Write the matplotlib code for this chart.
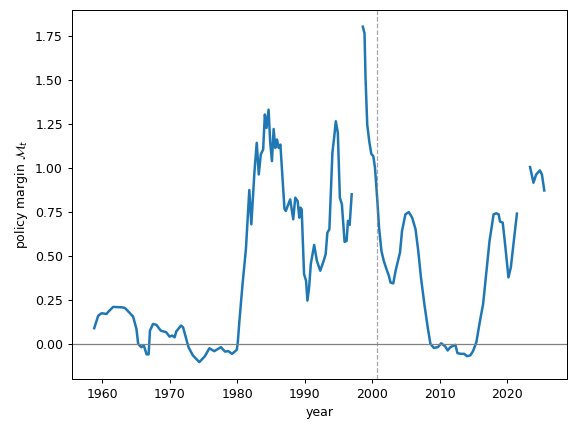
import numpy as np
import matplotlib
matplotlib.use("Agg")
import matplotlib.pyplot as plt

nan = np.nan

years = [
    1958.85, 1959.44, 1959.93, 1960.66, 1961.0, 1961.65, 1962.9, 1963.4, 1964.1, 1964.6,
    1965.1, 1965.35, 1965.8, 1966.2, 1966.6, 1966.9, 1967.1, 1967.55, 1968.05, 1968.7,
    1969.5, 1970.0, 1970.4, 1970.75, 1971.0, 1971.7, 1972.0, 1972.8, 1973.45, 1974.4,
    1975.2, 1975.9, 1976.6, 1977.6, 1978.2, 1978.7, 1979.25, 1979.95, 1980.1, 1980.3,
    1980.8, 1981.3, 1981.8, 1982.1, 1982.55, 1982.9, 1983.2, 1983.5, 1983.85, 1984.1,
    1984.35, 1984.65, 1984.9, 1985.15, 1985.4, 1985.65, 1985.9, 1986.15, 1986.4, 1987.0,
    1987.2, 1987.85, 1988.3, 1988.6, 1988.95, 1989.2, 1989.35, 1989.55, 1989.9, 1990.2,
    1990.4, 1990.65, 1990.9, 1991.4, 1991.8, 1992.3, 1992.8, 1993.1, 1993.35, 1993.65,
    1994.1, 1994.35, 1994.6, 1994.9, 1995.2, 1995.5, 1995.9, 1996.2, 1996.4, 1996.65,
    1996.95, 1997.7,
    1998.6, 1998.85, 1999.0, 1999.25, 1999.55, 1999.85, 2000.15, 2000.4, 2000.75, 2001.0,
    2001.35, 2001.7, 2002.1, 2002.45, 2002.7, 2003.1, 2003.45, 2004.1, 2004.4, 2004.9,
    2005.4, 2005.9, 2006.4, 2006.8, 2007.2, 2007.7, 2008.2, 2008.6, 2009.1, 2009.7,
    2010.2, 2010.8, 2011.15, 2011.55, 2012.3, 2012.6, 2013.1, 2013.6, 2014.0, 2014.5,
    2014.9, 2015.4, 2015.9, 2016.4, 2016.85, 2017.35, 2017.95, 2018.35, 2018.7, 2018.9,
    2019.3, 2019.65, 2020.15, 2020.5, 2021.0, 2021.4, 2022.4,
    2023.35, 2023.85, 2024.25, 2024.8, 2025.1, 2025.45,
]

margin = [
    0.089, 0.160, 0.174, 0.170, 0.185, 0.210, 0.208, 0.204, 0.176, 0.155,
    0.085, 0.000, -0.019, -0.010, -0.060, -0.060, 0.075, 0.113, 0.108, 0.075,
    0.066, 0.041, 0.047, 0.037, 0.071, 0.104, 0.094, -0.019, -0.066, -0.104,
    -0.072, -0.025, -0.042, -0.019, -0.044, -0.042, -0.057, -0.034, 0.009, 0.113,
    0.340, 0.540, 0.875, 0.680, 0.973, 1.144, 0.964, 1.078, 1.106, 1.305,
    1.229, 1.333, 1.144, 1.040, 1.223, 1.115, 1.163, 1.115, 1.134, 0.770,
    0.756, 0.822, 0.709, 0.832, 0.813, 0.718, 0.775, 0.766, 0.397, 0.359,
    0.246, 0.321, 0.454, 0.563, 0.472, 0.416, 0.472, 0.510, 0.633, 0.652,
    1.090, 1.172, 1.267, 1.200, 0.832, 0.794, 0.580, 0.586, 0.700, 0.677,
    0.851, nan,
    1.805, 1.767, 1.512, 1.248, 1.153, 1.081, 1.068, 1.002, 0.813, 0.661,
    0.529, 0.472, 0.425, 0.387, 0.349, 0.344, 0.416, 0.520, 0.643, 0.737,
    0.750, 0.718, 0.652, 0.529, 0.378, 0.227, 0.094, 0.000, -0.023, -0.019,
    0.003, -0.015, -0.038, -0.019, -0.006, -0.053, -0.057, -0.057, -0.070, -0.066,
    -0.042, 0.009, 0.123, 0.227, 0.397, 0.586, 0.737, 0.743, 0.737, 0.696,
    0.690, 0.567, 0.378, 0.435, 0.605, 0.741, nan,
    1.006, 0.917, 0.964, 0.987, 0.964, 0.873,
]

break_year = 2000.65

fig = plt.figure(figsize=(6.4, 4.8), dpi=90)
ax = fig.add_axes([0.1245, 0.123, 0.8595, 0.854])

ax.plot(years, margin, color="#1f77b4", linewidth=2)
ax.axhline(0, color="gray", linewidth=1)
ax.axvline(break_year, color="gray", linestyle="--", linewidth=1, alpha=0.7)

ax.set_xlabel("year")
ax.set_ylabel(r"policy margin $\mathcal{M}_t$")

fig.savefig("out.png", dpi=90)
